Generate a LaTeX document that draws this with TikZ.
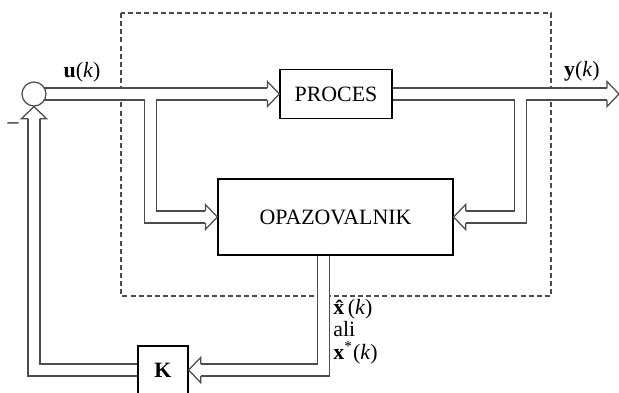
\documentclass[tikz,border=0pt]{standalone}
\usepackage{fontspec}
\setmainfont{Liberation Serif}
\newcommand{\pxu}{0.48pt}
\tikzset{
  block/.style={draw=black, line width=0.6pt, fill=white, inner sep=0pt},
  sumnode/.style={circle, draw=black!70, line width=0.6pt, fill=white, minimum size=24*\pxu, inner sep=0pt},
  sigline/.style={draw=black!70, line width=0.6pt},
  sigout/.style={draw=black!70, line width=12*\pxu+0.6pt},
  sigin/.style={draw=white, line width=12*\pxu-0.6pt},
  frame/.style={draw=black!70, line width=0.6pt, dash pattern=on 2.4pt off 1.5pt},
  lab/.style={anchor=west, inner sep=0pt},
  head/.pic={\draw[sigline, fill=white] (-12,-6) -- (-12,-12.5) -- (0,0) -- (-12,12.5) -- (-12,6);}
}
\begin{document}
\begin{tikzpicture}[x=0.48pt, y=-0.48pt, font=\fontsize{10.5pt}{10pt}\selectfont]
                \useasboundingbox (0,0) rectangle (619,392);
                % Dashed frame
                \draw[frame] (121,13) rectangle (551,296);
                % Blocks
                \node[block, minimum width=112*\pxu, minimum height=49*\pxu] (proc) at (336,94) {PROCES};
                \node[block, minimum width=235*\pxu, minimum height=76*\pxu] (obs) at (335.5,217) {OPAZOVALNIK};
                \node[block, minimum width=50*\pxu, minimum height=48*\pxu] (gain) at (163,370) {\textbf{K}};
                % Branch points and free ends
                \coordinate (ubr) at (150.5,94);
                \coordinate (ybr) at (520.5,94);
                \coordinate (ytip) at (619,94);
                \coordinate (yout) at (607,94);
                \coordinate (uin) at ([xshift=-12*\pxu]proc.west);
                \coordinate (obsL) at ([xshift=-12*\pxu]obs.west);
                \coordinate (obsR) at ([xshift=12*\pxu]obs.east);
                \coordinate (xo) at ([xshift=-12*\pxu]obs.south);
                \coordinate (kin) at ([xshift=12*\pxu]gain.east);
                % Double signal lines: outer pass, then inner pass
                \coordinate (sumc) at (34,94);
                \coordinate (fbin) at (34,118);
                \newcommand{\signals}{
                  (sumc) -- (uin)
                  (ubr) |- (obsL)
                  (proc.east) -- (yout)
                  (ybr) |- (obsR)
                  (xo) |- (kin)
                  (gain.west) -| (fbin)
                }
                \draw[sigout] \signals;
                \draw[sigin] \signals;
                % Summing junction
                \node[sumnode] (sum) at (sumc) {};
                \node (minus) at (13,126) {--};
                % Arrow heads
                \pic at (proc.west) {head};
                \pic at (obs.west) {head};
                \pic[rotate=180] at (obs.east) {head};
                \pic[rotate=180] at (gain.east) {head};
                \pic[rotate=90] at (sum.south) {head};
                \pic at (ytip) {head};
                % Signal labels
                \node (ulab) at (82,72) {\textbf{u}(\textit{k})};
                \node (ylab) at (582,71) {\textbf{y}(\textit{k})};
                \node[lab] (xhat) at (333,309) {\textbf{\^{x}}(\textit{k})};
                \node[lab] (ali) at (333,329) {ali};
                \node[lab] (xstar) at (333,353) {\textbf{x}\textsuperscript{*}(\textit{k})};
\end{tikzpicture}
\end{document}
